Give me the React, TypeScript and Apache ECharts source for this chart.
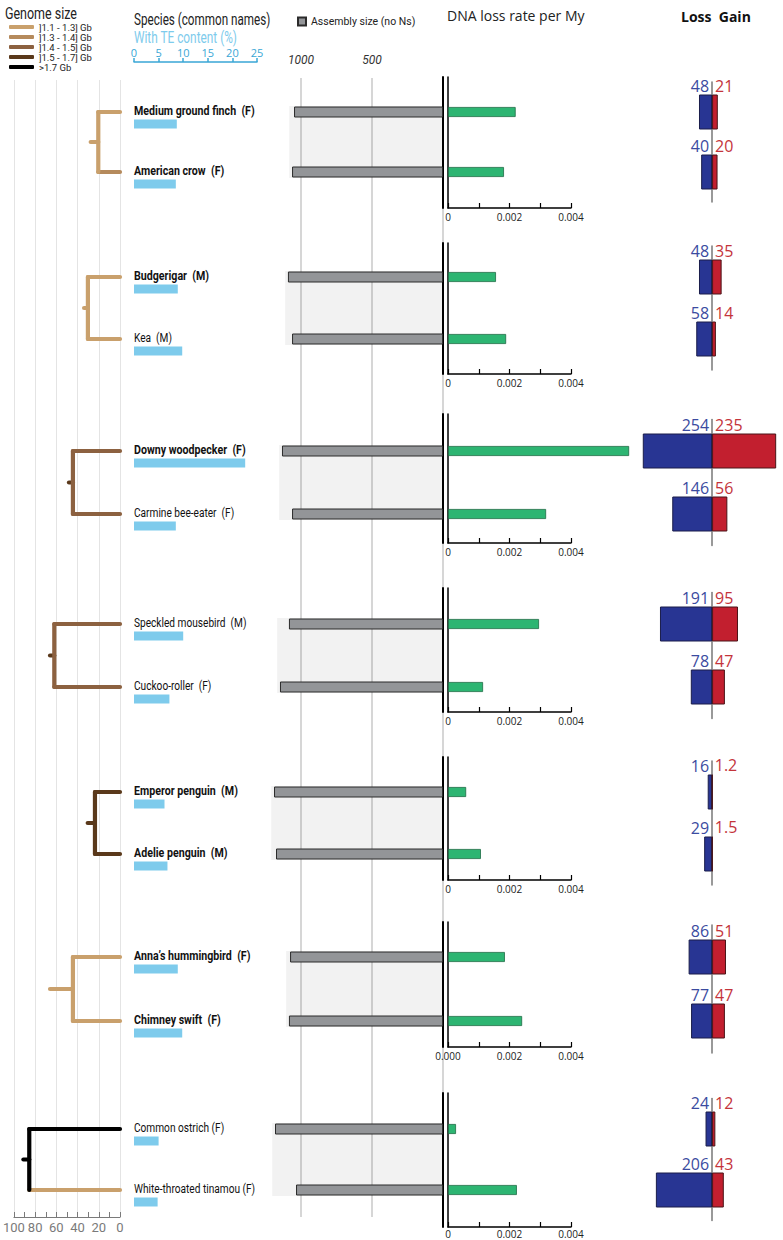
import React, { useEffect, useRef } from "react";
import * as echarts from "echarts";

// ---------------- data ----------------
const SPECIES = [
  "Medium ground finch", "American crow", "Budgerigar", "Kea",
  "Downy woodpecker", "Carmine bee-eater", "Speckled mousebird", "Cuckoo-roller",
  "Emperor penguin", "Adelie penguin", "Anna’s hummingbird", "Chimney swift",
  "Common ostrich", "White-throated tinamou",
];
const SEX = ["F", "F", "M", "M", "F", "F", "M", "F", "M", "M", "F", "F", "F", "F"];
const BOLD = [true, true, true, false, true, false, false, false, true, true, true, true, false, false];
const TE_CONTENT = [8.7, 8.5, 8.9, 9.8, 22.6, 8.5, 10.0, 7.2, 6.2, 6.8, 8.9, 9.8, 5.0, 4.8];
const ASSEMBLY_MB = [1049, 1063, 1092, 1063, 1134, 1063, 1085, 1148, 1190, 1176, 1077, 1085, 1183, 1035];
const DNA_LOSS_RATE = [0.0022, 0.00182, 0.00156, 0.00189, 0.00589, 0.00319, 0.00296, 0.00114, 0.00059, 0.00107, 0.00185, 0.00241, 0.00026, 0.00224];
const LOSS = [48, 40, 48, 58, 254, 146, 191, 78, 16, 29, 86, 77, 24, 206];
const GAIN = [21, 20, 35, 14, 235, 56, 95, 47, 1.2, 1.5, 51, 47, 12, 43];
const GENOME_CLASS = [0, 1, 0, 0, 2, 2, 2, 2, 3, 3, 0, 0, 4, 0];
const NODE_AGE = [20.3, 30, 44, 61.4, 23.4, 44, 84.8];
const STEM_AGE = [27.4, 33.6, 47.7, 65.4, 30.2, 65.4, 90.3];
const STEM_CLASS = [0, 0, 3, 3, 3, 0, 4];
const GENOME_LABELS = ["]1.1 - 1.3] Gb", "]1.3 - 1.4] Gb", "]1.4 - 1.5] Gb", "]1.5 - 1.7] Gb", ">1.7 Gb"];

// ---------------- layout & style ----------------
const GENOME_COLORS = ["#c9a06c", "#b58a5c", "#8c6140", "#5a391b", "#000000"];
const ROW_A = [112, 277, 451, 624, 792, 957, 1129];
const ROW_B = [172, 339, 514, 687, 854, 1021, 1190];
const FRAME_TOP = [77, 243, 414, 588, 757, 922, 1093];
const FRAME_AXIS = [208, 374, 543, 712, 880, 1047, 1227];
const FC = "Roboto,'Liberation Sans',sans-serif";
const FS = "'Open Sans','Noto Sans',sans-serif";
const CONDENSE_BOLD = 0.82;
const CONDENSE_REG = 0.78;
const TE_BLUE = "#7ecbec";
const TE_AXIS = "#3aa7d6";
const LG_PX = 0.284;
const LG_MAX = 260;
const LG_CENTER = 715;

function buildOption() {
  const grid: any[] = [];
  const xAxis: any[] = [];
  const yAxis: any[] = [];
  const series: any[] = [];
  const add = (g: any, x: any, ys: any[]) => {
    const gi = grid.length;
    grid.push(g);
    const xi = xAxis.length;
    xAxis.push({ ...x, gridIndex: gi });
    const yi = yAxis.length;
    ys.forEach((a) => yAxis.push({ ...a, gridIndex: gi }));
    return { xi, yi };
  };
  const hidVal = (min: number, max: number, inverse = false) => ({ type: "value", min, max, inverse, show: false });

  // tree global axis grid
  const tg = add(
    { left: 13, width: 107, top: 80, height: 1217 - 80 },
    {
      type: "value", min: 0, max: 100, inverse: true, interval: 20, position: "bottom",
      axisLine: { show: true, onZero: false, lineStyle: { color: "#7a7a7a", width: 1.2 } },
      axisTick: { show: true, inside: true, length: 5, lineStyle: { color: "#7a7a7a" } },
      minorTick: { show: true, splitNumber: 2, length: 5, lineStyle: { color: "#7a7a7a" } },
      axisLabel: { color: "#7a7a7a", fontSize: 13, margin: 4, fontFamily: FC },
      splitLine: { show: true, lineStyle: { color: "#e4e4e4", width: 1 } },
    },
    [hidVal(0, 1)]
  );
  GENOME_LABELS.forEach((name, i) => {
    series.push({
      type: "line", name, xAxisIndex: tg.xi, yAxisIndex: tg.yi, data: [],
      itemStyle: { color: GENOME_COLORS[i] }, lineStyle: { color: GENOME_COLORS[i], width: 4 },
    });
  });

  // assembly global axis grid (1000 / 500 lines)
  add(
    { left: 301, width: 142, top: 78, height: 1217 - 78 },
    {
      type: "value", min: 0, max: 1000, inverse: true, interval: 500, position: "top",
      axisLine: { show: false }, axisTick: { show: false },
      axisLabel: {
        fontStyle: "italic", fontSize: 12, color: "#333", margin: 12, fontFamily: FC,
        formatter: (v: number) => (v === 0 ? "" : String(v)),
      },
      splitLine: { show: true, lineStyle: { color: "#c8c8c8", width: 1.5 } },
    },
    [hidVal(0, 1)]
  );

  for (let p = 0; p < 7; p++) {
    const ia = 2 * p;
    const ib = 2 * p + 1;
    const gap = ROW_B[p] - ROW_A[p];
    const top = ROW_A[p] - gap / 2;
    const height = 2 * gap;
    const cats = [SPECIES[ia], SPECIES[ib]];
    const catAxis = (extra: any = {}) => ({ type: "category", data: cats, inverse: true, show: false, ...extra });

    // ---- tree + species labels ----
    const tr = add({ left: 13, width: 107, top, height }, hidVal(0, 100, true), [catAxis()]);
    series.push({
      type: "custom", xAxisIndex: tr.xi, yAxisIndex: tr.yi, z: 3,
      data: [[NODE_AGE[p], 0, STEM_AGE[p]]],
      encode: { x: 0, y: 1 },
      renderItem: (params: any, api: any) => {
        const age = api.value(0);
        const stem = api.value(2);
        const tA = api.coord([0, 0]);
        const tB = api.coord([0, 1]);
        const nA = api.coord([age, 0]);
        const nB = api.coord([age, 1]);
        const s = api.coord([stem, 0]);
        const midY = (tA[1] + tB[1]) / 2;
        const cA = GENOME_COLORS[GENOME_CLASS[ia]];
        const cB = GENOME_COLORS[GENOME_CLASS[ib]];
        const cS = GENOME_COLORS[STEM_CLASS[p]];
        const st = (c: string) => ({ stroke: c, lineWidth: 4.2, lineCap: "round" });
        const label = (idx: number, pt: number[]) => ({
          type: "text",
          x: pt[0] + 14,
          y: pt[1] - 1,
          scaleX: BOLD[idx] ? CONDENSE_BOLD : CONDENSE_REG,
          style: {
            text: `${SPECIES[idx]}${idx >= 12 ? " " : "  "}(${SEX[idx]})`,
            font: `${BOLD[idx] ? "bold " : ""}13px ${FC}`,
            fill: "#111",
            align: "left",
            verticalAlign: "middle",
          },
        });
        return {
          type: "group",
          children: [
            { type: "line", shape: { x1: s[0], y1: midY, x2: nA[0], y2: midY }, style: st(cS) },
            { type: "line", shape: { x1: nB[0], y1: nB[1], x2: tB[0], y2: tB[1] }, style: st(cB) },
            { type: "line", shape: { x1: nA[0], y1: nA[1], x2: nB[0], y2: nB[1] }, style: st(cA) },
            { type: "line", shape: { x1: nA[0], y1: nA[1], x2: tA[0], y2: tA[1] }, style: st(cA) },
            label(ia, tA),
            label(ib, tB),
          ],
        };
      },
    });

    // ---- TE content ----
    const teTop = top + 12;
    const te = add(
      { left: 134, width: 123, top: teTop, height },
      p === 0
        ? {
            type: "value", min: 0, max: 25, interval: 5, position: "top", offset: teTop - 62,
            axisLine: { show: true, lineStyle: { color: TE_AXIS, width: 1.5 } },
            axisTick: { show: true, length: 4, lineStyle: { color: TE_AXIS, width: 1.5 } },
            axisLabel: { color: TE_AXIS, fontSize: 11, margin: 4, fontFamily: FS },
            splitLine: { show: false },
          }
        : hidVal(0, 25),
      [catAxis()]
    );
    series.push({
      type: "bar", xAxisIndex: te.xi, yAxisIndex: te.yi, barWidth: 9,
      data: [TE_CONTENT[ia], TE_CONTENT[ib]], itemStyle: { color: TE_BLUE },
    });

    // ---- assembly size ----
    const as = add({ left: 301, width: 142, top, height }, hidVal(0, 1000, true), [catAxis()]);
    series.push({
      type: "custom", xAxisIndex: as.xi, yAxisIndex: as.yi, z: 1,
      data: [[Math.max(ASSEMBLY_MB[ia], ASSEMBLY_MB[ib]) + 20, 0]],
      encode: { x: 0, y: 1 },
      renderItem: (params: any, api: any) => {
        const a = api.coord([api.value(0), 0]);
        const b = api.coord([0, 1]);
        return {
          type: "rect",
          shape: { x: a[0], y: a[1] - 6, width: b[0] - a[0], height: b[1] - a[1] + 12 },
          style: { fill: "rgba(0,0,0,0.05)" },
        };
      },
    });
    series.push({
      type: "bar", name: "Assembly size (no Ns)", xAxisIndex: as.xi, yAxisIndex: as.yi,
      barWidth: 11, clip: false, z: 3,
      data: [ASSEMBLY_MB[ia], ASSEMBLY_MB[ib]],
      itemStyle: { color: "#939598", borderColor: "#2b2b2b", borderWidth: 1 },
    });

    // ---- DNA loss rate frame (axes) ----
    add(
      { left: 448, width: 123, top: FRAME_TOP[p], height: FRAME_AXIS[p] - FRAME_TOP[p] },
      {
        type: "value", min: 0, max: 0.004, interval: 0.001, position: "bottom",
        axisLine: { show: true, onZero: false, lineStyle: { color: "#000", width: 1.5 } },
        axisTick: { show: true, inside: true, length: 5, lineStyle: { color: "#000", width: 1.2 } },
        axisLabel: {
          fontSize: 10, lineHeight: 10, color: "#222", margin: p === 6 ? 2 : 4, fontFamily: FS,
          formatter: (v: number) => {
            const k = Math.round(v * 1000);
            if (k % 2 !== 0) return "";
            if (k === 0) return p === 5 ? "0.000" : "0";
            return (k / 1000).toFixed(3);
          },
        },
        splitLine: { show: false },
      },
      [
        {
          type: "value", min: 0, max: 1, position: "left",
          axisLine: { show: true, onZero: false, lineStyle: { color: "#000", width: 1.5 } },
          axisTick: { show: false }, axisLabel: { show: false }, splitLine: { show: false },
        },
        {
          type: "value", min: 0, max: 1, position: "left", offset: 5,
          axisLine: { show: true, onZero: false, lineStyle: { color: "#000", width: 2 } },
          axisTick: { show: false }, axisLabel: { show: false }, splitLine: { show: false },
        },
      ]
    );

    // ---- DNA loss bars ----
    const dn = add({ left: 448, width: 123, top, height }, hidVal(0, 0.004), [catAxis()]);
    series.push({
      type: "bar", xAxisIndex: dn.xi, yAxisIndex: dn.yi, barWidth: 10, clip: false,
      data: [DNA_LOSS_RATE[ia], DNA_LOSS_RATE[ib]],
      itemStyle: { color: "#2db572", borderColor: "#1d6b44", borderWidth: 0.8 },
    });

    // ---- loss / gain ----
    const lg = add(
      { left: LG_CENTER - LG_MAX * LG_PX, width: 2 * LG_MAX * LG_PX, top, height },
      hidVal(-LG_MAX, LG_MAX),
      [
        catAxis({
          show: true,
          axisLine: { show: true, onZero: true, lineStyle: { color: "#777", width: 1.5 } },
          axisTick: { show: false }, axisLabel: { show: false }, splitLine: { show: false },
        }),
      ]
    );
    series.push({
      type: "bar", xAxisIndex: lg.xi, yAxisIndex: lg.yi, barWidth: 35, clip: false, z: 3,
      data: [-LOSS[ia], -LOSS[ib]],
      itemStyle: { color: "#283593", borderColor: "#1a1d4a", borderWidth: 1 },
      label: {
        show: true, position: ["100%", -1], align: "right", verticalAlign: "bottom", offset: [-3, 0],
        color: "#3b4ba0", fontSize: 16, fontFamily: FS,
        formatter: (prm: any) => String(LOSS[2 * p + prm.dataIndex]),
      },
    });
    series.push({
      type: "bar", xAxisIndex: lg.xi, yAxisIndex: lg.yi, barWidth: 35, barGap: "-100%", clip: false, z: 3,
      data: [GAIN[ia], GAIN[ib]],
      itemStyle: { color: "#c21f2f", borderColor: "#4a1418", borderWidth: 1 },
      label: {
        show: true, position: [0, -1], align: "left", verticalAlign: "bottom", offset: [3, 0],
        color: "#c4343b", fontSize: 16, fontFamily: FS,
        formatter: (prm: any) => String(GAIN[2 * p + prm.dataIndex]),
      },
    });
  }

  const head = (text: string, x: number, y: number, size: number, fill: string, scale: number, weight = "") => ({
    type: "text", x, y, scaleX: scale,
    style: { text, font: `${weight}${size}px ${FC}`, fill, align: "left", verticalAlign: "middle" },
  });

  return {
    animation: false,
    backgroundColor: "#fff",
    grid, xAxis, yAxis, series,
    legend: [
      {
        data: GENOME_LABELS, orient: "vertical", left: 4, top: 17, itemWidth: 25, itemHeight: 4,
        itemGap: 0, icon: "roundRect", selectedMode: false,
        textStyle: { fontSize: 9.5, lineHeight: 8.5, color: "#222", fontFamily: FC },
      },
      {
        data: ["Assembly size (no Ns)"], left: 292, top: 11, itemWidth: 8, itemHeight: 8,
        icon: "rect", selectedMode: false,
        textStyle: { fontSize: 10.5, color: "#222", fontFamily: FC },
      },
    ],
    graphic: [
      head("Genome size", 5, 14, 16, "#222", 0.78),
      head("Species (common names)", 134, 19, 16, "#222", 0.73),
      head("With TE content (%)", 134, 37, 16, TE_BLUE, 0.74),
      { type: "text", left: 447, top: 8, style: { text: "DNA loss rate per My", font: `14px ${FS}`, fill: "#222" } },
      { type: "text", left: 681, top: 9, style: { text: "Loss  Gain", font: `bold 14px ${FS}`, fill: "#111" } },
    ],
  };
}

export default function App() {
  const ref = useRef<HTMLDivElement>(null);
  useEffect(() => {
    const chart = echarts.init(ref.current!, null, { renderer: "svg" });
    chart.setOption(buildOption() as any);
    return () => chart.dispose();
  }, []);
  return (
    <div
      ref={ref}
      style={{ position: "absolute", left: 0, top: 0, width: 783, height: 1240, background: "#fff" }}
    />
  );
}
